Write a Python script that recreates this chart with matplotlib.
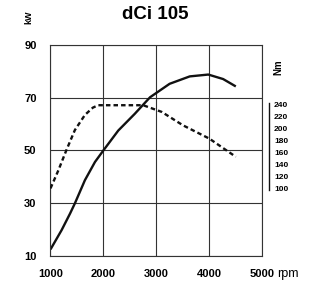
import matplotlib
matplotlib.use('Agg')
import matplotlib.pyplot as plt

# power curve (kW)
power_rpm = [1000, 1210, 1370, 1460, 1650, 1840, 2000, 2280, 2590, 2880,
             3250, 3630, 3980, 4260, 4500]
power_kw = [12.5, 19.8, 26.1, 29.9, 38.7, 45.6, 50, 57.5, 63.8, 70.1,
            75.2, 78, 78.7, 77, 74.2]

# torque curve (Nm)
torque_rpm = [1000, 1150, 1300, 1460, 1650, 1800, 1900, 2750, 3100, 3500,
              4000, 4500]
torque_nm = [101, 131, 164, 197, 222, 234, 238, 238, 227, 205, 183, 153]

rpm_ticks = [1000, 2000, 3000, 4000, 5000]
kw_ticks = [10, 30, 50, 70, 90]
nm_ticks = [100, 120, 140, 160, 180, 200, 220, 240]

FONT = ['Liberation Sans', 'DejaVu Sans']
INK = '#111111'
GRID = '#333333'

fig = plt.figure(figsize=(3.17, 2.92), dpi=100)
ax = fig.add_axes([0.1593, 0.1233, 0.6681, 0.7236])

ax.plot(power_rpm, power_kw, color=INK, lw=1.7, solid_capstyle='butt')
ax.set_xlim(1000, 5000)
ax.set_ylim(10, 90)
ax.set_xticks(rpm_ticks)
ax.set_yticks(kw_ticks)
ax.grid(True, color=GRID, lw=0.8)
ax.tick_params(length=0)
ax.tick_params(axis='x', pad=9.5)
ax.tick_params(axis='y', pad=10)
for s in ax.spines.values():
    s.set_color(GRID)
    s.set_linewidth(0.8)
for lab in ax.get_xticklabels():
    lab.set_fontfamily(FONT)
    lab.set_fontweight('bold')
    lab.set_fontsize(8)
for lab in ax.get_yticklabels():
    lab.set_fontfamily(FONT)
    lab.set_fontweight('bold')
    lab.set_fontsize(8)

# torque on its own scale, the short axis to the right
ax2 = ax.twinx()
ax2.plot(torque_rpm, torque_nm, color=INK, lw=1.7, ls=(0, (1.9, 1.3)))
ax2.set_ylim(-10.4, 337.7)
ax2.set_yticks(nm_ticks)
ax2.spines['right'].set_position(('outward', 5))
ax2.spines['right'].set_bounds(98, 242)
ax2.spines['right'].set_color(INK)
ax2.spines['right'].set_linewidth(1.0)
for side in ['top', 'left', 'bottom']:
    ax2.spines[side].set_visible(False)
ax2.tick_params(length=0, pad=3.5)
for lab in ax2.get_yticklabels():
    lab.set_fontfamily(FONT)
    lab.set_fontweight('bold')
    lab.set_fontsize(6)

fig.text(0.491, 0.949, 'dCi 105', ha='center', va='center',
         family=FONT, weight='bold', fontsize=13.5)
fig.text(0.091, 0.942, 'kW', ha='center', va='center', rotation=90,
         family=FONT, weight='bold', fontsize=6.5)
fig.text(0.877, 0.771, 'Nm', ha='center', va='center', rotation=90,
         family=FONT, weight='bold', fontsize=7)
fig.text(0.873, 0.062, 'rpm', ha='left', va='center',
         family=FONT, fontsize=9)

fig.savefig('out.png', dpi=100)
